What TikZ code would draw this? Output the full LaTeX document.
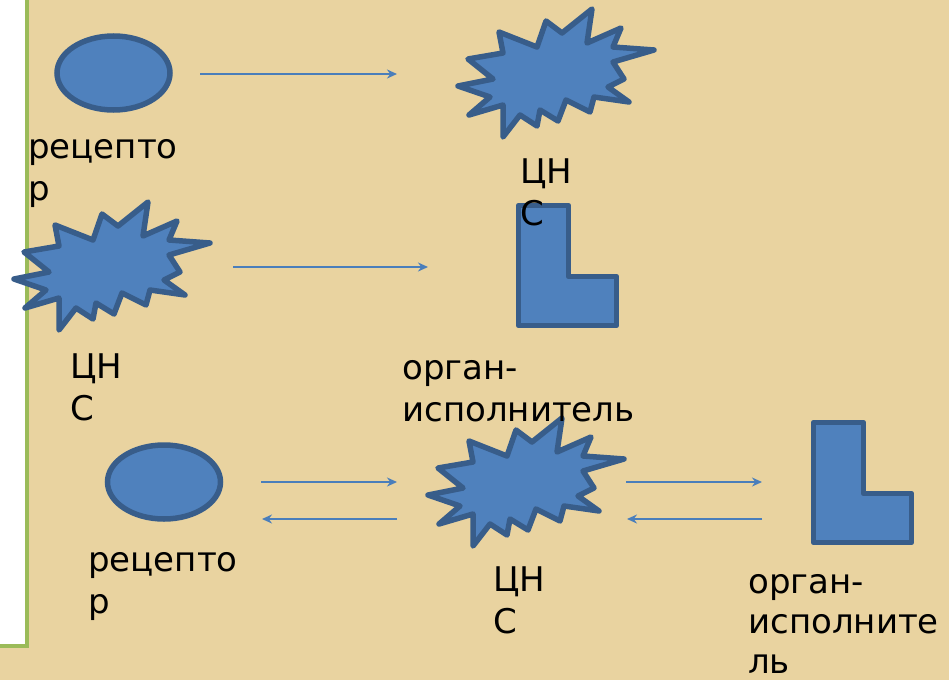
\documentclass[tikz,border=0pt]{standalone}
\usepackage{fontspec}
\setmainfont{DejaVu Sans}
\usetikzlibrary{arrows.meta,shapes.geometric,positioning,calc}
\definecolor{parchment}{RGB}{233,211,160}
\definecolor{shapefill}{RGB}{79,129,189}
\definecolor{shapeline}{RGB}{56,93,138}
\definecolor{arrowblue}{RGB}{74,126,187}
\definecolor{panelgreen}{RGB}{155,187,89}

\begin{document}
\begin{tikzpicture}[x=1pt,y=-1pt,
  receptor/.style={ellipse,draw=shapeline,fill=shapefill,line width=5.5pt,minimum width=113pt,minimum height=74pt,inner sep=0pt},
  lbl/.style={anchor=base west,align=left,inner sep=0pt,font=\fontsize{34}{42}\selectfont},
  link/.style={arrowblue,line width=1.9pt,-{Stealth[length=10pt,width=9pt]}},
  explosion/.pic={
    \draw[draw=shapeline,fill=shapefill,line width=5.5pt,line join=round]
      (1,79) -- (36,72) -- (11,52) -- (46,46) -- (42,25) -- (80,40) -- (89,14)
      -- (105,26) -- (135,2) -- (130,36) -- (164,21) -- (156,40) -- (197,43)
      -- (156,55) -- (167,72) -- (151,80) -- (172,95) -- (137,90) -- (133,105)
      -- (109,93) -- (101,114) -- (83,103) -- (80,119) -- (63,108) -- (46,130)
      -- (46,98) -- (12,108) -- (33,90) -- cycle;
  },
  effector/.pic={
    \draw[draw=shapeline,fill=shapefill,line width=5.5pt,line join=round]
      (0,0) -- (50,0) -- (50,71) -- (98,71) -- (98,120) -- (0,120) -- cycle;
  }
]
\useasboundingbox (0,0) rectangle (949,680);
\fill[parchment] (0,0) rectangle (949,680);
% left panel
\fill[white] (0,0) rectangle (27,645);
\draw[panelgreen,line width=4pt] (27,0) -- (27,645.5) -- (0,645.5);

% shapes
\node[receptor] (recA) at (113.5,73) {};
\node[receptor] (recB) at (164,482) {};
\pic (cnsA) at (457,7) {explosion};
\pic (cnsB) at (13,200) {explosion};
\pic (cnsC) at (427,416) {explosion};
\pic (effA) at (518.5,205.5) {effector};
\pic (effB) at (813.5,422.5) {effector};

% labels (base = last line)
\node[lbl] (recAtxt) at (28,200) {рецепто\\р};
\node[lbl] (cnsAtxt) at (520,225) {ЦН\\С};
\node[lbl] (cnsBtxt) at (70,420) {ЦН\\С};
\node[lbl] (effAtxt) at (402,421) {орган-\\исполнитель};
\node[lbl] (recBtxt) at (88,613) {рецепто\\р};
\node[lbl] (cnsCtxt) at (493,633) {ЦН\\С};
\node[lbl,font=\fontsize{34}{40}\selectfont] (effBtxt) at (748,673) {орган-\\исполните\\ль};

% arrow ends
\coordinate (a1) at (200,74);  \coordinate (b1) at (397,74);
\coordinate (a2) at (233,267); \coordinate (b2) at (428,267);
\coordinate (a3) at (261,482); \coordinate (b3) at (397,482);
\coordinate (a4) at (397,519); \coordinate (b4) at (262,519);
\coordinate (a5) at (626,482); \coordinate (b5) at (762,482);
\coordinate (a6) at (762,519); \coordinate (b6) at (627,519);

\path[link]
(a1) edge (b1)
(a2) edge (b2)
(a3) edge (b3) (a4) edge (b4)
(a5) edge (b5) (a6) edge (b6)
;
\end{tikzpicture}
\end{document}
